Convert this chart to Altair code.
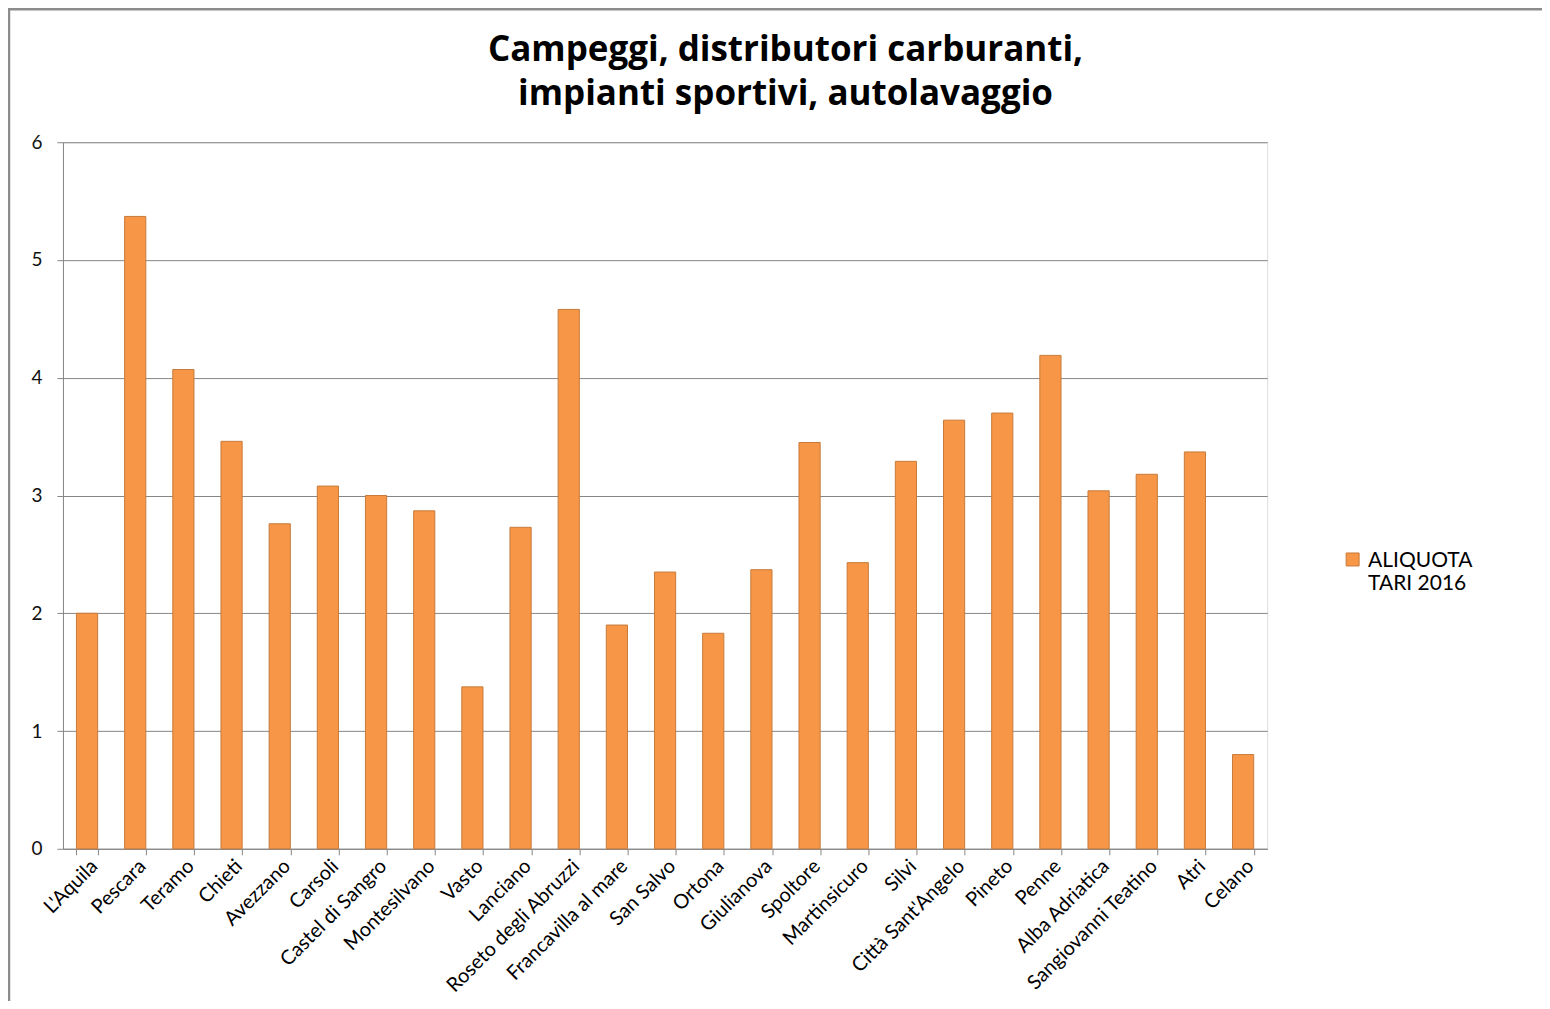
import altair as alt
import pandas as pd

comuni = ["L'Aquila", "Pescara", "Teramo", "Chieti", "Avezzano", "Carsoli",
          "Castel di Sangro", "Montesilvano", "Vasto", "Lanciano",
          "Roseto degli Abruzzi", "Francavilla al mare", "San Salvo", "Ortona",
          "Giulianova", "Spoltore", "Martinsicuro", "Silvi", "Città Sant'Angelo",
          "Pineto", "Penne", "Alba Adriatica", "Sangiovanni Teatino", "Atri", "Celano"]
aliquota = [2.00, 5.37, 4.07, 3.46, 2.76, 3.08, 3.00, 2.87, 1.375, 2.73,
            4.58, 1.90, 2.35, 1.83, 2.37, 3.45, 2.43, 3.29, 3.64,
            3.70, 4.19, 3.04, 3.18, 3.37, 0.80]
serie = "ALIQUOTA|TARI 2016"
titolo = ["Campeggi, distributori carburanti,", "impianti sportivi, autolavaggio"]

df = pd.DataFrame({"comune": comuni, "valore": aliquota, "serie": [serie] * len(comuni)})

FONT = "Lato"
one = pd.DataFrame({"k": [0]})

frame = alt.Chart(one).mark_rect(
    fill="transparent", stroke="#8c8c8c", strokeWidth=2.5, clip=False
).encode(
    x=alt.value(-54), x2=alt.value(1600),
    y=alt.value(-133), y2=alt.value(1200)
)

title = alt.Chart(one).mark_text(
    font="Open Sans", fontSize=35, fontWeight="bold", color="#000000",
    align="center", baseline="alphabetic", lineHeight=44, clip=False
).encode(
    x=alt.value(723), y=alt.value(-81), text=alt.value(titolo)
)

bars = alt.Chart(df).mark_bar(
    stroke="#C77A3A", strokeWidth=1
).encode(
    x=alt.X("comune:N", sort=comuni, title=None,
            scale=alt.Scale(paddingInner=0.56, paddingOuter=0.28),
            axis=alt.Axis(labelAngle=-45, labelAlign="right", labelBaseline="top",
                          labelFont=FONT, labelFontSize=20, labelColor="#000000",
                          labelPadding=1, tickBand="extent", tickSize=6,
                          tickColor="#868686", domainColor="#868686",
                          labelOverlap=False, labelLimit=500)),
    y=alt.Y("valore:Q", title=None,
            scale=alt.Scale(domain=[0, 6]),
            axis=alt.Axis(values=[0, 1, 2, 3, 4, 5, 6], format="d",
                          labelFont=FONT, labelFontSize=19, labelColor="#111111",
                          labelPadding=15, tickSize=6, tickColor="#868686",
                          domainColor="#868686", gridColor="#868686",
                          gridWidth=1, grid=True)),
    color=alt.Color("serie:N", title=None,
                    scale=alt.Scale(range=["#F79646"]),
                    legend=alt.Legend(orient="none", legendX=1280, legendY=415,
                                      symbolType="M-1,-2.23H1V-0.23H-1Z",
                                      symbolSize=169,
                                      symbolStrokeColor="#C77A3A", symbolStrokeWidth=1,
                                      labelFont=FONT, labelFontSize=21,
                                      labelColor="#000000",
                                      labelExpr="split(datum.label, '|')",
                                      labelBaseline="alphabetic", labelOffset=5,
                                      labelLimit=300))
)

chart = alt.layer(frame, title, bars).properties(
    width=1205, height=707,
    autosize=alt.AutoSizeParams(type="none"),
    padding={"left": 55, "top": 134, "right": 275, "bottom": 152},
).configure_view(
    fill="#FDEEE9", strokeOpacity=0, strokeWidth=0
).configure(background="#ffffff")

chart.save("out.html", embed_options={"renderer": "svg", "actions": False})
